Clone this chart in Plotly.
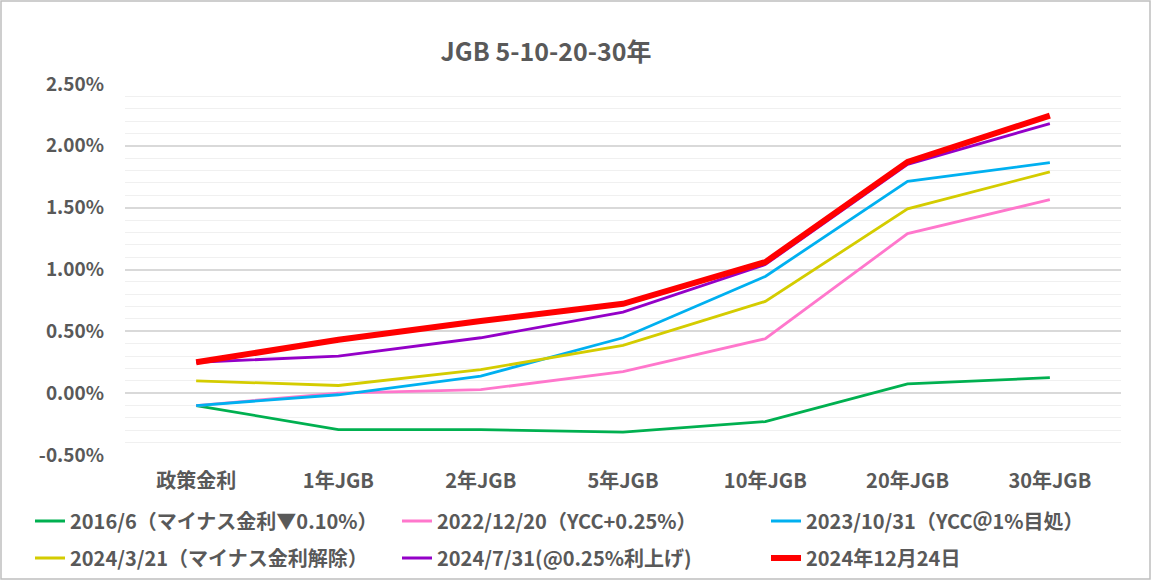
import plotly.graph_objects as go

categories = ["政策金利", "1年JGB", "2年JGB", "5年JGB", "10年JGB", "20年JGB", "30年JGB"]

s2016 = [-0.10, -0.295, -0.295, -0.315, -0.23, 0.075, 0.125]
s2022 = [-0.10, 0.00, 0.028, 0.175, 0.44, 1.29, 1.565]
s2023 = [-0.10, -0.013, 0.138, 0.448, 0.944, 1.712, 1.864]
s2024a = [0.10, 0.062, 0.19, 0.386, 0.742, 1.49, 1.79]
s2024b = [0.25, 0.30, 0.448, 0.655, 1.04, 1.85, 2.18]
s2024c = [0.25, 0.432, 0.583, 0.723, 1.06, 1.87, 2.245]

names = [
    "2016/6（マイナス金利▼0.10%）",
    "2022/12/20（YCC+0.25%）",
    "2023/10/31（YCC＠1%目処）",
    "2024/3/21（マイナス金利解除）",
    "2024/7/31(@0.25%利上げ)",
    "2024年12月24日",
]

y_ticks = [-0.5, 0.0, 0.5, 1.0, 1.5, 2.0, 2.5]
title_text = "JGB 5-10-20-30年"

FONT = "Noto Sans CJK JP"
GRAY = "#595959"

W, H = 1152, 581
ml, mr, mt, mb = 125, 31, 84, 126
pw, ph = W - ml - mr, H - mt - mb

def px(x):
    return (x - ml) / pw

def py(y):
    return (H - mb - y) / ph

# legend slot per series: (left px, row-centre px)
col_x = [30, 397, 766]
row_y = [521, 558]

series = [
    (s2016, names[0], "#00B050", 2.8),
    (s2022, names[1], "#FF77CC", 2.8),
    (s2023, names[2], "#00B0F0", 2.8),
    (s2024a, names[3], "#D4CC00", 2.8),
    (s2024b, names[4], "#9400C8", 2.8),
    (s2024c, names[5], "#FF0000", 6),
]

fig = go.Figure()
legends = {}
legfont = dict(family=FONT, size=20, color=GRAY, weight="bold")
for i, (vals, nm, col, w) in enumerate(series):
    lg = "legend" if i == 0 else f"legend{i + 1}"
    fig.add_trace(go.Scatter(
        x=categories, y=vals, name=nm, mode="lines",
        line=dict(color=col, width=w), legend=lg,
    ))
    legends[lg] = dict(
        x=px(col_x[i % 3]), y=py(row_y[i // 3]), xanchor="left", yanchor="middle",
        orientation="v", font=legfont, bgcolor="rgba(0,0,0,0)", itemwidth=30,
    )

fig.update_layout(
    width=W, height=H,
    margin=dict(l=ml, r=mr, t=mt, b=mb, autoexpand=False),
    paper_bgcolor="white", plot_bgcolor="white",
    title=dict(text=title_text, x=px(546), xref="paper", xanchor="center",
               y=1 - 52 / H, yanchor="middle",
               font=dict(family=FONT, size=25, color=GRAY, weight="bold")),
    xaxis=dict(
        type="category", range=[-0.5, 6.5], showgrid=False, zeroline=False,
        showline=False, ticks="",
        tickfont=dict(family=FONT, size=20, color=GRAY, weight="bold"),
        ticklabelstandoff=12,
    ),
    yaxis=dict(
        range=[-0.5, 2.5], tickvals=y_ticks, ticktext=[f"{v:.2f}%" for v in y_ticks],
        showgrid=True, gridcolor="#D9D9D9", gridwidth=1.5,
        zeroline=False, showline=False, ticks="",
        minor=dict(dtick=0.1, showgrid=True, gridcolor="#F0F0F0", gridwidth=1),
        tickfont=dict(family=FONT, size=19, color=GRAY, weight="bold"),
        ticklabelstandoff=20,
    ),
    showlegend=True,
    shapes=[dict(type="rect", xref="paper", yref="paper",
                 x0=px(1), x1=px(1150), y0=py(579), y1=py(1),
                 line=dict(color="#BFBFBF", width=1.5), layer="below")],
    **legends,
)

fig.write_html("out.html", config={"displayModeBar": False},
               post_script="document.body.style.margin='0';")
